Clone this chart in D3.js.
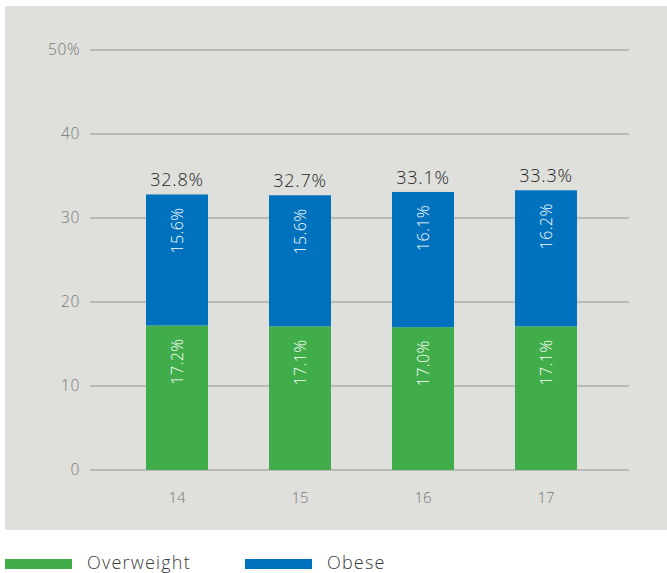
<!DOCTYPE html>
<html><head><meta charset="utf-8">
<script src="https://cdn.jsdelivr.net/npm/d3@7"></script>
<style>body{margin:0;background:#fff}svg{display:block}text{font-family:"Open Sans",Lato,sans-serif}</style>
</head><body><svg width="667" height="573"></svg>
<script>
const categories = ["14","15","16","17"];
const overweight = [17.2, 17.1, 17.0, 17.1];
const obese = [15.6, 15.6, 16.1, 16.2];
const totals = [32.8, 32.7, 33.1, 33.3];
const yTicks = [0,10,20,30,40,50];
const seriesNames = ["Overweight","Obese"];
const colors = ["#40ad4a","#0071bc"];

const svg = d3.select("svg");
svg.append("rect").attr("x",5).attr("y",6).attr("width",662).attr("height",524).attr("fill","#dfdfdb");

const y = d3.scaleLinear().domain([0,50]).range([470,50]);
const x = d3.scaleBand().domain(categories).range([115.5,607.5]).paddingInner(0.496).paddingOuter(0.248);

const grid = svg.append("g");
grid.selectAll("line").data(yTicks).join("line")
  .attr("x1",90).attr("x2",629).attr("y1",d=>y(d)).attr("y2",d=>y(d))
  .attr("stroke","#acacaa").attr("stroke-width",1.5);
grid.selectAll("text").data(yTicks).join("text")
  .attr("x",80).attr("y",d=>y(d)).attr("dy","0.35em").attr("text-anchor","end")
  .attr("fill","#777").attr("font-size",15.5).attr("font-weight",300).attr("letter-spacing",0.6)
  .text(d=>d===50?"50%":d);

const xa = svg.append("g");
xa.selectAll("text").data(categories).join("text")
  .attr("x",d=>x(d)+x.bandwidth()/2).attr("y",498).attr("dy","0.35em").attr("text-anchor","middle")
  .attr("fill","#777").attr("font-size",15).attr("font-weight",300).text(d=>d);

const stackData = categories.map((c,i)=>({cat:c, Overweight:overweight[i], Obese:obese[i]}));
const stacked = d3.stack().keys(seriesNames)(stackData);
const fmt = v => v.toFixed(1)+"%";

stacked.forEach((s,si)=>{
  const g = svg.append("g");
  g.selectAll("rect").data(s).join("rect")
    .attr("x",d=>x(d.data.cat)).attr("width",x.bandwidth())
    .attr("y",d=>y(d[1])).attr("height",d=>y(d[0])-y(d[1]))
    .attr("fill",colors[si]);
  g.selectAll("text").data(s).join("text")
    .attr("transform",d=>`translate(${x(d.data.cat)+x.bandwidth()/2},${y(d[1])+13}) rotate(-90)`)
    .attr("text-anchor","end").attr("dy","0.35em")
    .attr("fill","#fff").attr("font-size",16).attr("font-weight",300).attr("letter-spacing",0.4)
    .text(d=>fmt(d[1]-d[0]));
});

svg.append("g").selectAll("text").data(categories).join("text")
  .attr("x",d=>x(d)+x.bandwidth()/2).attr("y",(d,i)=>y(totals[i])-8)
  .attr("text-anchor","middle").attr("fill","#1e1e1e").attr("font-size",18).attr("font-weight",300).attr("letter-spacing",0.8)
  .text((d,i)=>fmt(totals[i]));

const legendX = [5,245];
const lg = svg.append("g");
seriesNames.forEach((n,i)=>{
  lg.append("rect").attr("x",legendX[i]).attr("y",559).attr("width",67).attr("height",10).attr("fill",colors[i]);
  lg.append("text").attr("x",legendX[i]+82).attr("y",568.5)
    .attr("fill","#3a3a3a").attr("font-size",18).attr("font-weight",300).attr("letter-spacing",1.2).text(n);
});
</script></body></html>
